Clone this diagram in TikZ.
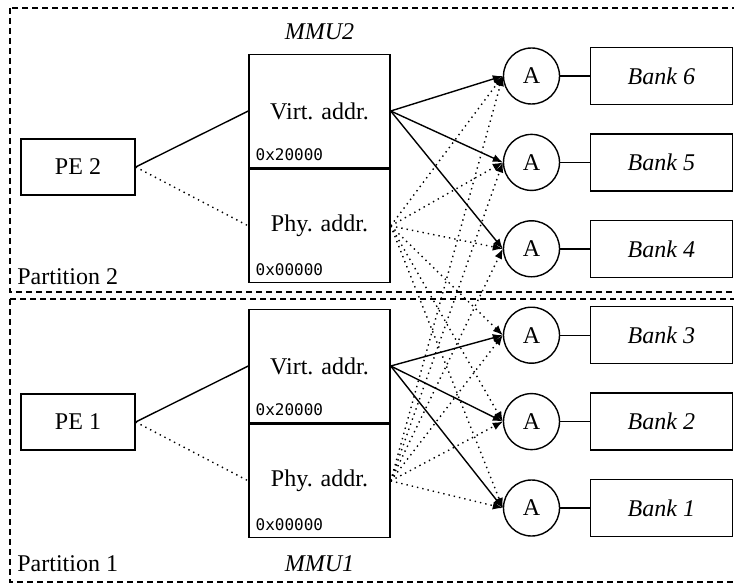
\documentclass[tikz,border=0pt,12pt]{standalone}
\usepackage{fontspec}
\setmainfont{Liberation Serif}
\setmonofont{DejaVu Sans Mono}
\usetikzlibrary{positioning,arrows.meta}

\tikzset{
  pebox/.style={draw, line width=0.7pt, minimum width=57pt, minimum height=28pt},
  mmuhalf/.style={draw, line width=0.7pt, minimum width=70.5pt, minimum height=56.75pt},
  arb/.style={draw, circle, line width=0.7pt, minimum size=28pt, inner sep=0pt},
  bank/.style={draw, line width=0.7pt, minimum width=71pt, minimum height=28.5pt, font=\itshape},
  addr/.style={font=\ttfamily\fontsize{8}{9}\selectfont, inner sep=3.5pt, anchor=south west},
  part/.style={draw, line width=0.6pt, dash pattern=on 3pt off 2pt},
  virtlink/.style={line width=0.7pt, -{Latex[length=5pt,width=4pt]}},
  phylink/.style={line width=0.7pt, dotted, -{Latex[length=5pt,width=4pt]}},
}

\begin{document}
\begin{tikzpicture}[x=0.5pt, y=-0.5pt]
	\useasboundingbox (0,0) rectangle (734,583);
	
	% 1. 两个分区 (虚线框)
	\draw[part] (10,8) rectangle (745,292);
	\draw[part] (10,299) rectangle (745,582);
	\node[anchor=base west, inner sep=0pt] (p2lbl) at (17,285) {Partition 2};
	\node[anchor=base west, inner sep=0pt] (p1lbl) at (17,571) {Partition 1};
	
	% 2. 处理单元
	\node[pebox] (pe2) at (78,167) {PE 2};
	\node[pebox] (pe1) at (78,422) {PE 1};
	
	% 3. MMU (上下两半)
	\node[mmuhalf] (virt2) at (319.5,111) {Virt. addr.};
	\node[mmuhalf, below=0pt of virt2] (phy2) {Phy. addr.};
	\node[addr] (va2) at (virt2.south west) {0x20000};
	\node[addr] (pa2) at (phy2.south west) {0x00000};
	\node[above=2.8pt of virt2, font=\itshape] (mmu2) {MMU2};
	
	\node[mmuhalf] (virt1) at (319.5,366) {Virt. addr.};
	\node[mmuhalf, below=0pt of virt1] (phy1) {Phy. addr.};
	\node[addr] (va1) at (virt1.south west) {0x20000};
	\node[addr] (pa1) at (phy1.south west) {0x00000};
	\node[below=4.5pt of phy1, font=\itshape] (mmu1) {MMU1};
	
	% 4. 仲裁器和存储体
	\node[arb] (a1) at (531.5,508) {A};
	\foreach \i [count=\j from 2] in {1,...,5}
		\node[arb, above=14.5pt of a\i] (a\j) {A};
	\foreach \i in {1,...,6}{
		\node[bank, right=14.75pt of a\i] (bank\i) {Bank \i};
		\draw[line width=0.7pt] (a\i) -- (bank\i);
	}
	
	% 5. 连线
	\draw[line width=0.7pt] (pe2.east) -- (virt2.west);
	\draw[line width=0.7pt, dotted] (pe2.east) -- (phy2.west);
	\draw[line width=0.7pt] (pe1.east) -- (virt1.west);
	\draw[line width=0.7pt, dotted] (pe1.east) -- (phy1.west);
	
	\foreach \i in {1,...,6}{
		\draw[phylink] (phy2.east) -- (a\i.west);
		\draw[phylink] (phy1.east) -- (a\i.west);
	}
	\foreach \i in {4,5,6}
		\draw[virtlink] (virt2.east) -- (a\i.west);
	\foreach \i in {1,2,3}
		\draw[virtlink] (virt1.east) -- (a\i.west);
\end{tikzpicture}
\end{document}
